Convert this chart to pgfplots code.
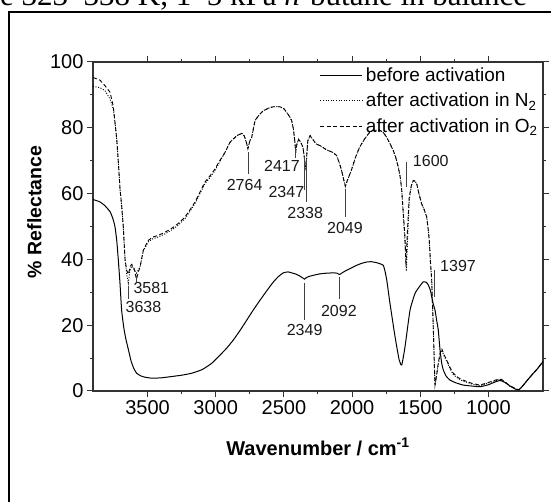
\documentclass[border=0pt]{standalone}
\usepackage{pgfplots}
\pgfplotsset{compat=1.18}
\usepackage{fontspec}
\setmainfont{Liberation Sans}
\newfontfamily\serifa{Liberation Serif}
\begin{document}
\begin{tikzpicture}
\useasboundingbox (0pt,0pt) rectangle (551pt,502pt);
\clip (0pt,0pt) rectangle (551pt,502pt);
\node[anchor=base west, inner sep=0pt, font=\serifa\fontsize{31}{31}\selectfont] at (0pt,496pt) {e 323–338 K, 1–5 kPa \textit{n}-butane in balance};
\draw[line width=2.5pt] (9pt,-20pt) -- (9pt,490pt) -- (580pt,490pt);
\begin{axis}[
  at={(93pt,111pt)}, anchor=south west,
  scale only axis, width=450pt, height=329pt,
  x dir=reverse, xmin=600, xmax=3900, ymin=0, ymax=100,
  xtick={1000,1500,2000,2500,3000,3500}, minor x tick num=1,
  ytick={0,20,40,60,80,100}, minor y tick num=1,
  tick align=outside,
  major tick length=6pt, minor tick length=3pt,
  axis line style={line width=1.3pt, black!80},
  every tick/.style={line width=1pt, black!80},
  tick label style={font=\fontsize{20}{20}\selectfont},
  /pgf/number format/assume math mode=true,
  /pgf/number format/1000 sep={},
  xlabel={Wavenumber / cm\textsuperscript{-1}},
  ylabel={\% Reflectance},
  xlabel style={font=\bfseries\fontsize{20}{20}\selectfont, at={(axis description cs:0.5,-0.195)}, anchor=base},
  ylabel style={font=\bfseries\fontsize{19.5}{19.5}\selectfont, at={(axis description cs:-0.13,0.544)}, anchor=center},
  legend style={at={(axis description cs:0.504,0.992)}, anchor=north west, draw=none, fill=none,
    font=\fontsize{19}{19}\selectfont, row sep=4pt, inner sep=0pt, nodes={inner sep=3pt}},
  legend cell align=left,
  legend image code/.code={\draw[#1] (0pt,0pt) -- (42pt,0pt);},
]
\addplot[black, line width=1pt, smooth, tension=0.3] table {
3900 58.2
3850 57.5
3812 56.3
3775 54.5
3755 52.5
3739 50.0
3726 45.8
3714 39.7
3702 32.7
3690 24.6
3675 19.5
3660 16.0
3640 12.5
3620 9.0
3600 6.8
3580 5.4
3550 4.6
3519 4.2
3470 3.9
3400 4.0
3323 4.4
3250 4.8
3176 5.4
3100 6.5
3030 8.4
2969 10.9
2920 13.0
2871 15.5
2820 18.5
2773 21.5
2725 24.6
2675 27.6
2625 30.5
2578 33.1
2540 34.8
2505 35.9
2470 36.2
2443 35.9
2410 35.5
2382 34.9
2360 34.3
2349 34.0
2335 34.5
2309 34.9
2270 35.3
2236 35.6
2190 35.8
2138 35.9
2110 35.8
2092 35.4
2070 36.0
2040 36.7
2000 37.5
1966 38.2
1930 38.8
1893 39.2
1860 39.3
1820 39.0
1790 38.6
1771 38.2
1759 36.5
1745 33.5
1722 26.6
1685 16.5
1655 9.5
1636 7.9
1612 13.4
1575 24.6
1539 29.6
1510 31.5
1478 33.2
1455 33.0
1441 32.2
1425 30.5
1416 28.6
1405 26.5
1392 24.6
1380 21.5
1368 18.5
1355 12.4
1343 8.5
1331 6.4
1310 4.5
1282 3.3
1240 2.5
1185 1.8
1120 1.5
1062 1.3
1000 1.9
960 2.6
915 3.2
880 2.6
840 1.5
810 0.7
780 0.3
756 1.2
720 3.0
671 5.4
640 6.8
610 8.4
600 9.0
};
\addlegendentry{before activation}
\addplot[black, line width=0.9pt, dash pattern=on 1pt off 1.6pt] table {
3900 92.6
3850 92.2
3812 91.3
3775 88.7
3751 85.7
3739 81.7
3726 76.6
3714 69.5
3702 61.5
3690 56.4
3678 50.0
3665 40.0
3653 35.5
3641 32.8
3630 36.5
3616 38.0
3600 37.0
3581 35.8
3565 37.0
3555 37.7
3531 42.6
3494 45.4
3460 46.3
3421 46.8
3385 47.5
3348 48.3
3310 49.3
3275 50.4
3225 52.4
3190 54.5
3152 57.0
3115 60.0
3079 63.0
3040 65.0
3005 67.0
2969 69.8
2932 72.5
2895 75.6
2846 77.6
2809 78.3
2790 77.5
2775 75.5
2764 73.6
2750 76.0
2736 77.1
2712 82.2
2680 84.0
2651 85.2
2610 86.0
2578 86.4
2529 86.4
2500 85.8
2480 84.7
2460 83.5
2443 82.2
2430 79.5
2419 75.5
2414 72.5
2405 75.0
2392 76.5
2375 75.5
2360 74.0
2350 71.0
2345 68.5
2338 67.5
2332 72.0
2325 76.0
2308 77.6
2280 76.0
2260 75.0
2236 74.6
2187 73.3
2140 72.5
2114 71.6
2095 69.5
2077 67.0
2060 64.0
2049 62.2
2035 64.0
2006 67.0
1975 71.0
1945 74.1
1910 76.5
1872 78.6
1845 79.2
1798 79.3
1770 78.5
1746 77.1
1720 75.0
1698 73.1
1680 71.0
1661 68.0
1645 64.5
1636 61.0
1624 53.0
1612 45.0
1602 36.5
1595 44.0
1588 51.0
1581 58.0
1565 62.5
1551 64.0
1540 63.8
1526 63.0
1510 60.0
1490 56.9
1470 55.0
1453 52.9
1440 48.5
1434 45.8
1425 39.0
1416 33.7
1410 26.0
1404 18.5
1397 8.4
1392 1.8
1385 3.5
1368 8.0
1355 11.0
1343 12.5
1325 10.6
1306 9.0
1280 6.6
1258 5.0
1220 3.7
1185 3.0
1120 2.1
1062 1.6
1000 2.4
965 2.9
925 3.4
903 3.3
870 2.4
842 1.4
800 0.7
780 0.3
756 1.2
720 3.0
671 5.4
640 6.8
610 8.4
600 9.0
};
\addlegendentry{after activation in N\textsubscript{2}}
\addplot[black, line width=0.9pt, dash pattern=on 4pt off 2.5pt] table {
3900 95.3
3850 94.5
3812 92.8
3775 90.8
3751 86.5
3739 81.7
3726 76.6
3714 69.5
3702 61.5
3690 56.4
3678 50.0
3665 40.0
3653 36.7
3641 35.5
3625 38.0
3616 38.5
3600 37.5
3581 34.0
3565 36.5
3555 37.7
3531 42.8
3494 45.8
3460 46.8
3421 47.3
3385 48.0
3348 48.8
3310 49.8
3275 50.9
3225 52.9
3190 55.0
3152 57.4
3115 60.5
3079 63.5
3040 65.5
3005 67.5
2969 70.1
2932 72.5
2895 75.6
2846 77.6
2809 78.3
2790 77.5
2775 75.5
2764 73.6
2750 76.0
2736 77.1
2712 82.2
2680 84.0
2651 85.2
2610 86.0
2578 86.4
2529 86.4
2500 85.8
2480 84.7
2460 83.5
2443 82.2
2430 79.5
2419 75.5
2414 72.5
2405 75.0
2392 76.5
2375 75.5
2360 74.0
2350 71.0
2345 68.5
2338 67.5
2332 72.0
2325 76.0
2308 77.6
2280 76.0
2260 75.0
2236 74.6
2187 73.3
2140 72.5
2114 71.6
2095 69.5
2077 67.0
2060 64.0
2049 62.2
2035 64.0
2006 67.0
1975 71.0
1945 74.1
1910 76.5
1872 78.6
1845 79.2
1798 79.3
1770 78.5
1746 77.1
1720 75.0
1698 73.1
1680 71.0
1661 68.0
1645 64.5
1636 61.0
1624 53.9
1612 46.8
1605 38.0
1598 45.0
1590 52.0
1581 58.9
1565 62.5
1551 64.0
1540 63.8
1526 63.0
1510 60.0
1490 56.9
1470 55.0
1453 52.9
1440 48.5
1434 45.8
1425 39.0
1416 33.7
1410 26.0
1404 18.5
1397 8.4
1392 1.8
1385 3.5
1368 8.4
1355 11.5
1343 12.9
1325 11.0
1306 9.4
1280 7.0
1258 5.4
1220 4.0
1185 3.3
1120 2.3
1062 1.8
1000 2.6
965 3.1
925 3.6
903 3.5
870 2.5
842 1.5
800 0.8
780 0.3
756 1.2
720 3.0
671 5.4
640 6.8
610 8.4
600 9.0
};
\addlegendentry{after activation in O\textsubscript{2}}
% peak annotations
\begin{scope}[black!75, line width=0.8pt]
\draw (axis cs:3638,31.8) -- (axis cs:3638,28.0);
\draw (axis cs:3581,35.0) -- (axis cs:3581,33.2);
\draw (axis cs:2764,72.6) -- (axis cs:2764,66.0);
\draw (axis cs:2417,74.0) -- (axis cs:2417,70.8);
\draw (axis cs:2347,71.0) -- (axis cs:2347,61.0);
\draw (axis cs:2338,70.6) -- (axis cs:2338,57.4);
\draw (axis cs:2049,61.5) -- (axis cs:2049,52.9);
\draw (axis cs:1600,69.5) -- (axis cs:1600,62.0);
\draw (axis cs:1397,36.7) -- (axis cs:1397,28.6);
\draw (axis cs:2349,32.8) -- (axis cs:2349,21.7);
\draw (axis cs:2092,34.7) -- (axis cs:2092,28.1);
\end{scope}
\begin{scope}[every node/.style={inner sep=0pt, font=\fontsize{16}{16}\selectfont, text=black!90}]
\node[anchor=north west] at (axis cs:3662,27.4) {3638};
\node[anchor=north west] at (axis cs:3604,33.0) {3581};
\node[anchor=north] at (axis cs:2788,64.5) {2764};
\node[anchor=north east] at (axis cs:2382,70.3) {2417};
\node[anchor=north east] at (axis cs:2350,62.2) {2347};
\node[anchor=north] at (axis cs:2344,55.9) {2338};
\node[anchor=north] at (axis cs:2052,51.3) {2049};
\node[anchor=west] at (axis cs:1555,69.8) {1600};
\node[anchor=west] at (axis cs:1355,37.9) {1397};
\node[anchor=north] at (axis cs:2348,20.3) {2349};
\node[anchor=north] at (axis cs:2097,26.1) {2092};
\end{scope}
\end{axis}
\end{tikzpicture}
\end{document}
